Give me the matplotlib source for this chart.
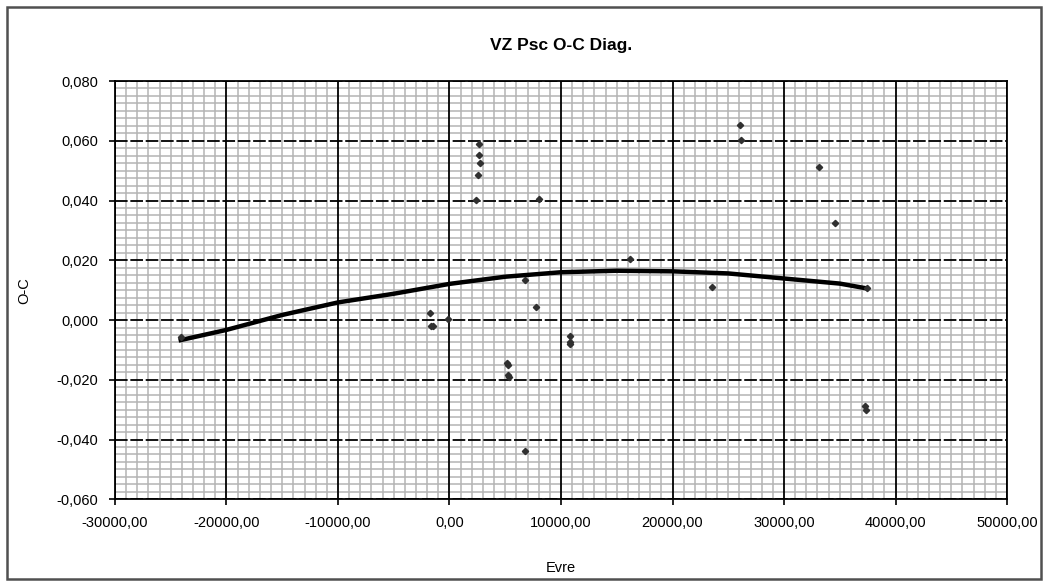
import matplotlib.pyplot as plt
import numpy as np
from matplotlib.patches import Rectangle
from matplotlib.ticker import FuncFormatter, MultipleLocator

plt.rcParams["font.family"] = ["Liberation Sans", "DejaVu Sans"]

# observed O-C values
epoch = [-24100, -1720, -1640, -1500, -150, 2400, 2600, 2700, 2690, 2680,
         7990, 5200, 5250, 5250, 5300, 6790, 6790, 7800, 10780, 10780, 10800,
         16160, 23570, 26040, 26160, 33100, 34550, 37300, 37350, 37400]
oc = [-0.0058, 0.0025, -0.0019, -0.0021, 0.0005, 0.0403, 0.0485, 0.0525, 0.0552, 0.0589,
      0.0404, -0.0143, -0.0152, -0.0185, -0.0192, -0.0439, 0.0134, 0.0042, -0.0053, -0.0073, -0.0080,
      0.0205, 0.0109, 0.0654, 0.0603, 0.0513, 0.0326, -0.0288, -0.0302, 0.0108]

# trend line
trend_x = [-24100, -20000, -15000, -10000, -5000, 0, 5000, 10000, 15000,
           20000, 25000, 30000, 35000, 37400]
trend_y = [-0.0067, -0.0033, 0.0017, 0.0059, 0.0088, 0.0121, 0.0145, 0.0160, 0.0165,
           0.0163, 0.0156, 0.0139, 0.0122, 0.0106]

fig = plt.figure(figsize=(10.49, 5.85), dpi=100)
ax = fig.add_axes([0.1096, 0.1465, 0.8504, 0.715])

ax.set_xlim(-30000, 50000)
ax.set_ylim(-0.06, 0.08)
ax.xaxis.set_major_locator(MultipleLocator(10000))
ax.xaxis.set_minor_locator(MultipleLocator(1000))
ax.yaxis.set_major_locator(MultipleLocator(0.02))
ax.yaxis.set_minor_locator(MultipleLocator(0.0025))

# minor grid first, major lines on top of it (grid alone lets the gray lines cut the black ones)
ax.grid(True, which="minor", color="#b4b4b4", linewidth=1.1)
ax.set_axisbelow(True)
for xv in np.arange(-30000, 50001, 10000):
    ax.axvline(xv, color="black", linewidth=1.3, zorder=1.5)
for yv in np.arange(-0.06, 0.0801, 0.02):
    ax.axhline(yv, color="black", linewidth=1.3, linestyle=(0, (7, 1.5)), zorder=1.5)

ax.plot(trend_x, trend_y, color="black", linewidth=3.2, zorder=3)
ax.plot(epoch, oc, linestyle="none", marker="D", markersize=3.2, color="#303030", zorder=4)

ax.xaxis.set_major_formatter(FuncFormatter(lambda v, p: f"{v:.2f}".replace(".", ",")))
ax.yaxis.set_major_formatter(FuncFormatter(lambda v, p: f"{v:.3f}".replace(".", ",")))
ax.tick_params(which="major", length=4, width=1.2, labelsize=10.5, pad=8)
ax.tick_params(which="minor", length=0)
for s in ax.spines.values():
    s.set_linewidth(1.3)
    s.set_color("black")
    s.set_zorder(2)

ax.set_title("VZ Psc O-C Diag.", fontsize=12.5, fontweight="bold", pad=22)
ax.set_xlabel("Evre", fontsize=10.5, labelpad=22)
ax.set_ylabel("O-C", fontsize=10.5, labelpad=18)

fig.patches.append(Rectangle((7 / 1049, 6 / 585), 1034 / 1049, 572 / 585,
                             transform=fig.transFigure, fill=False,
                             edgecolor="#505050", linewidth=1.8))

fig.savefig("out.png", dpi=100)
